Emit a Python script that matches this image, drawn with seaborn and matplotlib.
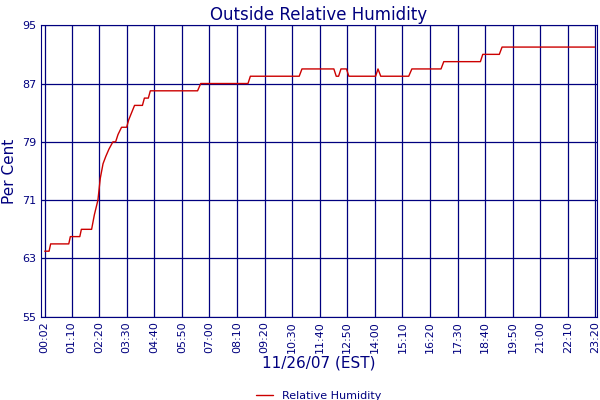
import matplotlib
matplotlib.use("Agg")
import matplotlib.pyplot as plt
import seaborn as sns
import pandas as pd

# minutes after midnight and humidity (%)
minutes = [2, 13, 17, 63, 67, 91, 95, 121, 128, 137, 143, 150, 157, 165, 175, 182,
           188, 197, 210, 215, 230, 245, 250, 255, 265, 270, 390, 398, 518, 524,
           648, 655, 736, 742, 748, 754, 768, 774, 780, 842, 848, 855, 926, 934,
           1008, 1015, 1108, 1114, 1156, 1163, 1398]
humidity = [64, 64, 65, 65, 66, 66, 67, 67, 69, 71, 74, 76, 77, 78, 79, 79,
            80, 81, 81, 82, 84, 84, 84, 85, 85, 86, 86, 87, 87, 88,
            88, 89, 89, 88, 88, 89, 89, 88, 88, 88, 89, 88, 88, 89,
            89, 90, 90, 91, 91, 92, 92]
tick_labels = ["00:02", "01:10", "02:20", "03:30", "04:40", "05:50", "07:00",
               "08:10", "09:20", "10:30", "11:40", "12:50", "14:00", "15:10",
               "16:20", "17:30", "18:40", "19:50", "21:00", "22:10", "23:20"]
y_ticks = [55, 63, 71, 79, 87, 95]

navy = "#00007f"
df = pd.DataFrame({"t": minutes, "rh": humidity})
tick_minutes = [int(s[:2]) * 60 + int(s[3:]) for s in tick_labels]

sns.set_style("white")
fig, ax = plt.subplots(figsize=(6, 4), dpi=100)
sns.lineplot(data=df, x="t", y="rh", color="#cc0000", lw=1, ax=ax, label="Relative Humidity")
ax.set_xlim(-8, 1404)
ax.set_ylim(55, 95)
ax.set_xticks(tick_minutes)
ax.set_xticklabels(tick_labels, rotation=90, fontsize=8, color=navy)
ax.set_yticks(y_ticks)
ax.set_yticklabels(y_ticks, fontsize=8, color=navy)
ax.grid(True, color=navy, lw=0.9)
for s in ax.spines.values():
    s.set_color(navy)
ax.tick_params(length=0, pad=3)
ax.set_title("Outside Relative Humidity", color=navy, fontsize=12, pad=4)
ax.set_xlabel("11/26/07 (EST)", color=navy, fontsize=11, labelpad=2)
ax.set_ylabel("Per Cent", color=navy, fontsize=11)
ax.legend(loc="upper center", bbox_to_anchor=(0.5, -0.22), frameon=False,
          fontsize=8, labelcolor=navy, handlelength=1.5)
fig.subplots_adjust(left=0.068, right=0.995, top=0.937, bottom=0.208)
fig.savefig("out.png")
